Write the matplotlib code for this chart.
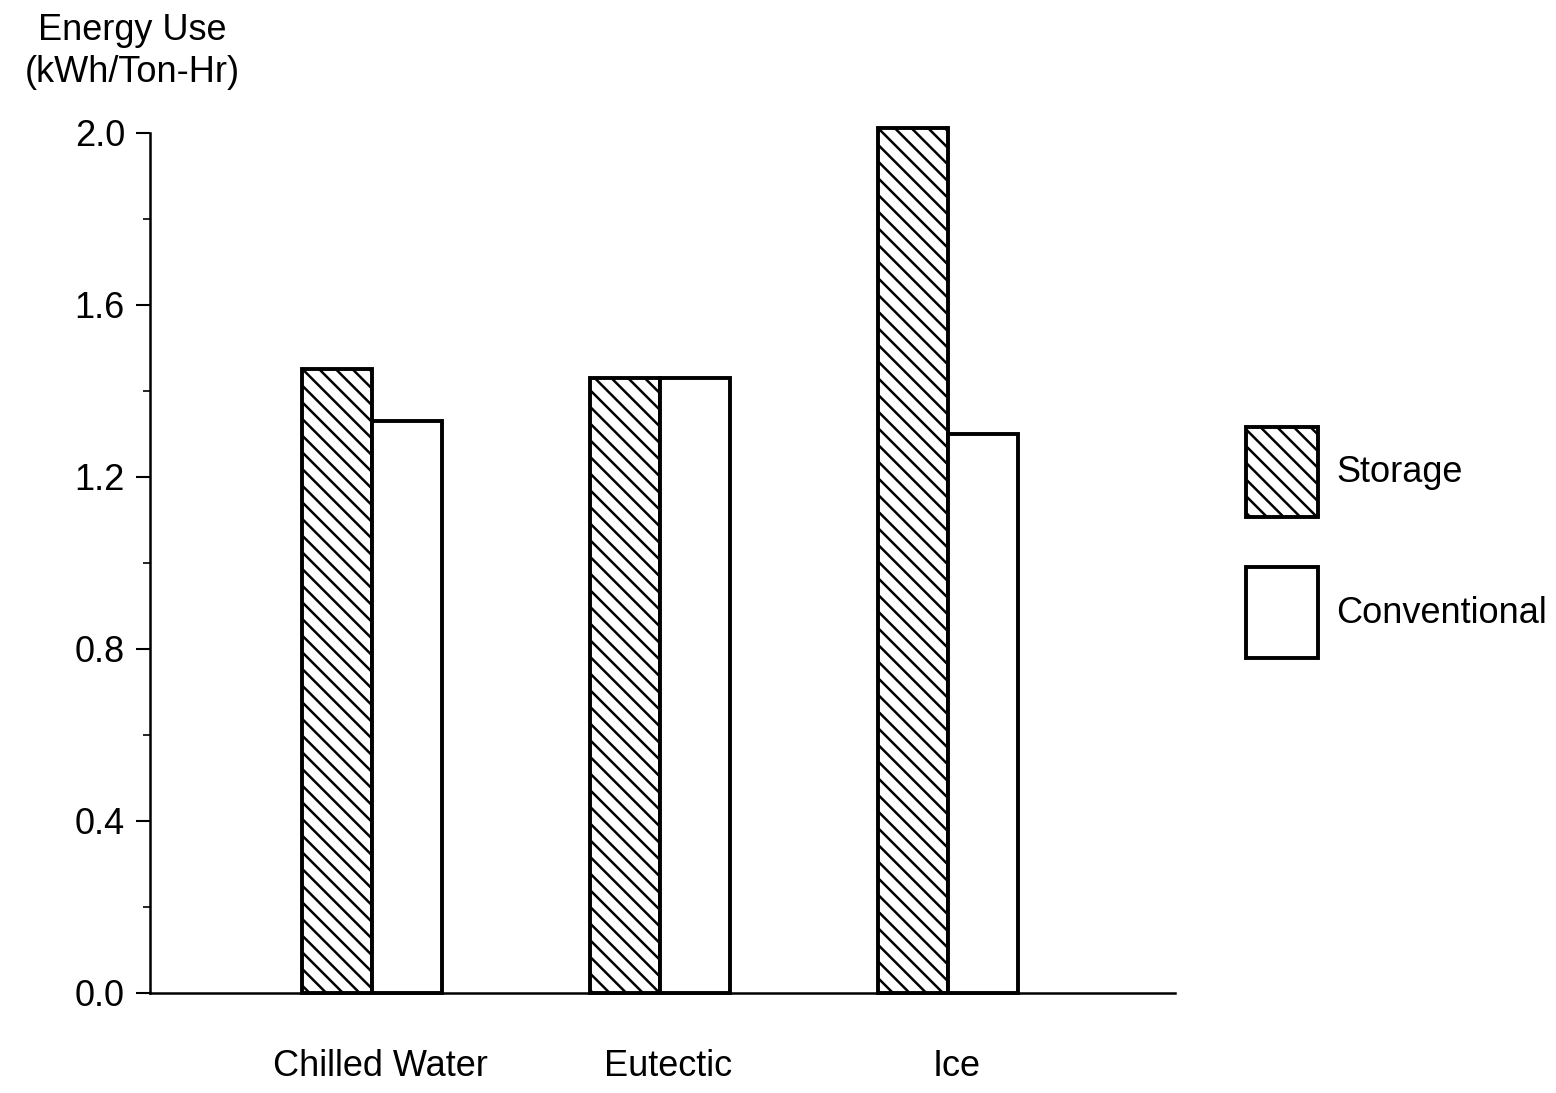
import numpy as np
import matplotlib.pyplot as plt

# Energy use per ton-hour, storage vs conventional systems
categories = ['Chilled Water', 'Eutectic', 'Ice']
storage = [1.45, 1.43, 2.01]
conventional = [1.33, 1.43, 1.30]
yticks = [0.0, 0.4, 0.8, 1.2, 1.6, 2.0]

plt.rcParams.update({'font.family': 'Liberation Sans', 'font.size': 26,
                     'hatch.linewidth': 1.8})

fig = plt.figure(figsize=(15.56, 10.93), dpi=100)
ax = fig.add_axes([0.0964, 0.0915, 0.659, 0.787])

x = np.arange(len(categories))
w = 0.243
ax.bar(x - w/2, storage, w, facecolor='white', edgecolor='black',
       linewidth=2.8, hatch='\\\\', label='Storage', clip_on=False)
ax.bar(x + w/2, conventional, w, facecolor='white', edgecolor='black',
       linewidth=2.8, label='Conventional', clip_on=False)

ax.set_xlim(-0.77, 2.79)
ax.set_ylim(0, 2.0)
ax.set_yticks(yticks)
ax.set_yticklabels(['%.1f' % t for t in yticks])
ax.set_yticks(np.arange(0.2, 2.0, 0.4), minor=True)
ax.tick_params(axis='y', which='major', length=10, width=1.5, pad=8)
ax.tick_params(axis='y', which='minor', length=5, width=1.2)
ax.set_xticks(x + 0.03)
ax.set_xticklabels(categories)
ax.tick_params(axis='x', length=0, pad=40)
ax.spines['top'].set_visible(False)
ax.spines['right'].set_visible(False)
ax.spines['left'].set_linewidth(1.8)
ax.spines['bottom'].set_linewidth(1.8)

fig.text(0.085, 0.972, 'Energy Use', ha='center', va='center')
fig.text(0.085, 0.934, '(kWh/Ton-Hr)', ha='center', va='center')

ax.legend(loc='center left', bbox_to_anchor=(0.780, 0.504), bbox_transform=fig.transFigure,
          frameon=False, handlelength=2.0, handleheight=3.47,
          labelspacing=1.4, handletextpad=0.5)

fig.savefig('out.png', dpi=100, facecolor='white')
